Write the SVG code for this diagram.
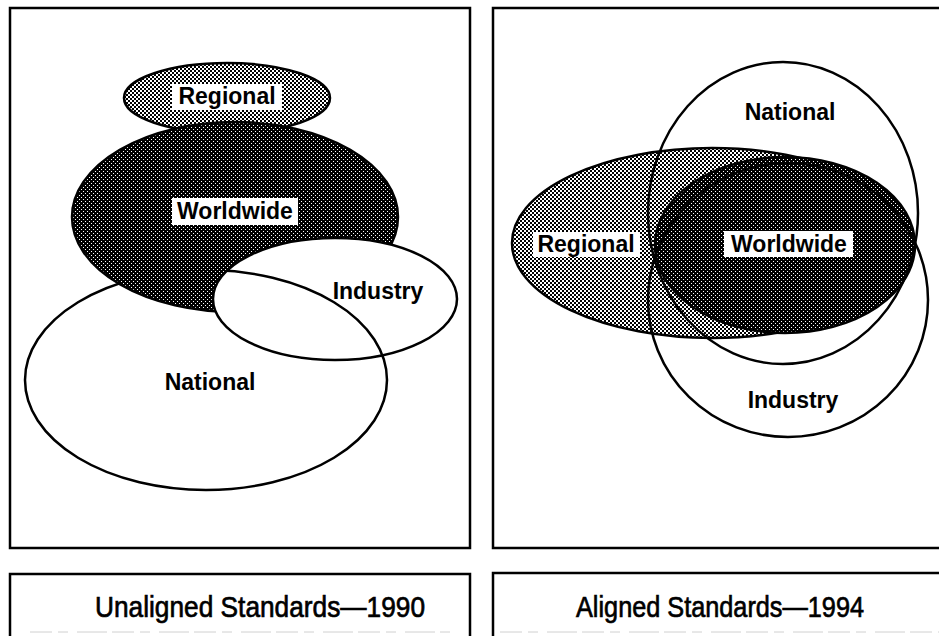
<svg xmlns="http://www.w3.org/2000/svg" width="939" height="636" viewBox="0 0 939 636">
<style>
.frame{fill:none;stroke:#000;stroke-width:2.5}
.ol{stroke:#000;stroke-width:2.5}
.lbl{font-family:"Liberation Sans",Arial,sans-serif;font-weight:bold;font-size:23px;fill:#000;text-anchor:middle}
.cap{font-family:"Liberation Sans",Arial,sans-serif;font-size:30px;fill:#000;stroke:#000;stroke-width:0.7;text-anchor:middle}
.box{fill:#fff;stroke:none}
.scan{fill:none;stroke:#d0d0d0;stroke-width:1;stroke-dasharray:22 6 10 9 30 5}
</style>
<defs>
<pattern id="light" width="4" height="4" patternUnits="userSpaceOnUse">
<rect width="4" height="4" fill="#fff"/>
<rect width="2" height="2" fill="#000"/>
<rect x="2" y="2" width="2" height="2" fill="#000"/>
</pattern>
<pattern id="dark" width="4" height="4" patternUnits="userSpaceOnUse">
<rect width="4" height="4" fill="#000"/>
<rect x="1" y="1" width="1" height="1" fill="#fff"/>
<rect x="3" y="3" width="1" height="1" fill="#fff"/>
</pattern>
<clipPath id="clipInd">
<ellipse cx="335" cy="299" rx="122" ry="61"/>
</clipPath>
</defs>
<rect width="939" height="636" fill="#fff"/>

<!-- Left panel -->
<g id="left-panel">
<rect class="frame" x="10" y="8" width="460" height="540"/>
<g id="left-regional">
<ellipse class="ol" cx="227" cy="98" rx="103" ry="35" fill="url(#light)"/>
</g>
<g id="left-national">
<ellipse class="ol" cx="206" cy="380" rx="181" ry="110" fill="#fff"/>
</g>
<g id="left-worldwide">
<ellipse class="ol" cx="235" cy="217" rx="163" ry="95" fill="url(#dark)"/>
</g>
<g id="left-industry">
<ellipse class="ol" cx="335" cy="299" rx="122" ry="61" fill="#fff"/>
<ellipse class="ol" cx="206" cy="380" rx="181" ry="110" fill="none" clip-path="url(#clipInd)"/>
<text class="lbl" x="378" y="299">Industry</text>
</g>
<g id="left-national-label">
<text class="lbl" x="210" y="390">National</text>
</g>
<g id="left-regional-label">
<rect class="box" x="172" y="84" width="110" height="26"/>
<text class="lbl" x="227" y="104">Regional</text>
</g>
<g id="left-worldwide-label">
<rect class="box" x="172" y="198" width="126" height="27"/>
<text class="lbl" x="235" y="219">Worldwide</text>
</g>
</g>

<!-- Right panel -->
<g id="right-panel">
<path class="frame" d="M945,8 H493 V548 H945"/>
<g id="right-regional">
<ellipse class="ol" cx="712" cy="243" rx="200" ry="95" fill="url(#light)"/>
</g>
<g id="right-worldwide">
<ellipse class="ol" cx="785" cy="245" rx="130" ry="88" fill="url(#dark)"/>
</g>
<g id="right-national">
<ellipse class="ol" cx="783" cy="213" rx="135" ry="151" fill="none"/>
<text class="lbl" x="790" y="120">National</text>
</g>
<g id="right-industry">
<ellipse class="ol" cx="788" cy="300" rx="140" ry="137" fill="none"/>
<text class="lbl" x="793" y="408">Industry</text>
</g>
<g id="right-regional-label">
<rect class="box" x="533" y="232" width="107" height="25"/>
<text class="lbl" x="586" y="252">Regional</text>
</g>
<g id="right-worldwide-label">
<rect class="box" x="724" y="231" width="129" height="26"/>
<text class="lbl" x="789" y="252">Worldwide</text>
</g>
</g>

<!-- Captions -->
<g id="caption-left">
<path class="frame" d="M10,640 V574 H470 V640"/>
<path class="scan" d="M30,632 H450"/>
<text class="cap" x="260" y="617" textLength="330" lengthAdjust="spacingAndGlyphs">Unaligned Standards—1990</text>
</g>
<g id="caption-right">
<path class="frame" d="M493,640 V573 H945"/>
<path class="scan" d="M500,632 H939"/>
<text class="cap" x="720" y="617" textLength="288" lengthAdjust="spacingAndGlyphs">Aligned Standards—1994</text>
</g>
</svg>
